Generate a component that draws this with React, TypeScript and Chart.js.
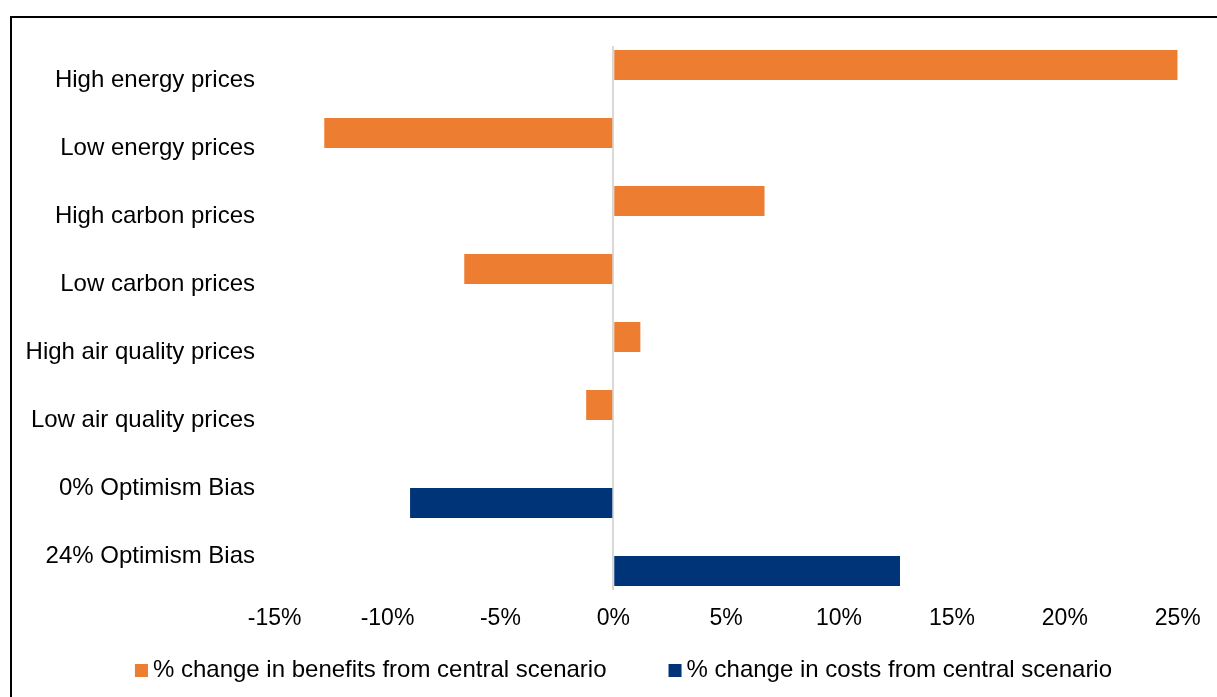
import { useEffect, useRef } from "react";
import { Chart, registerables } from "chart.js";

Chart.register(...registerables);

// Sensitivity scenarios shown on the category axis (top to bottom)
const categories = [
  "High energy prices",
  "Low energy prices",
  "High carbon prices",
  "Low carbon prices",
  "High air quality prices",
  "Low air quality prices",
  "0% Optimism Bias",
  "24% Optimism Bias",
];

// Percentage change against the central scenario
const benefitsChange = [25.0, -12.8, 6.7, -6.6, 1.2, -1.2, null, null];
const costsChange = [null, null, null, null, null, null, -9.0, 12.7];

const seriesNames = [
  "% change in benefits from central scenario",
  "% change in costs from central scenario",
];
const seriesColors = ["#ED7D31", "#003478"];

// Value axis range and tick spacing (percent)
const axisMin = -15;
const axisMax = 25;
const axisStep = 5;

const FONT = "'Liberation Sans', Arial, Helvetica, sans-serif";

// Legend drawn under the axis: small square swatch, tight gap, then the label
const bottomLegend = {
  id: "bottomLegend",
  afterDraw(chart: any) {
    const ctx = chart.ctx as CanvasRenderingContext2D;
    ctx.save();
    ctx.font = `24px ${FONT}`;
    const box = 13;
    const gapText = 5;
    const gapItem = 62;
    const items = chart.data.datasets.map((ds: any) => ({
      label: ds.label as string,
      color: ds.backgroundColor as string,
      w: ctx.measureText(ds.label).width,
    }));
    const total =
      items.reduce((s: number, it: any) => s + box + gapText + it.w, 0) +
      gapItem * (items.length - 1);
    let x = 623.5 - total / 2;
    const y = chart.height - 26.5;
    ctx.textBaseline = "middle";
    ctx.textAlign = "left";
    for (const it of items) {
      ctx.fillStyle = it.color;
      ctx.fillRect(x, y - box / 2, box, box);
      x += box + gapText;
      ctx.fillStyle = "#000000";
      ctx.fillText(it.label, x, y);
      x += it.w + gapItem;
    }
    ctx.restore();
  },
};

export default function App() {
  const canvasRef = useRef<HTMLCanvasElement | null>(null);

  useEffect(() => {
    if (!canvasRef.current) return;
    const chart = new Chart(canvasRef.current, {
      type: "bar",
      data: {
        labels: categories,
        datasets: [
          {
            label: seriesNames[0],
            data: benefitsChange,
            backgroundColor: seriesColors[0],
            borderWidth: 0,
            categoryPercentage: 60 / 68,
            barPercentage: 1,
          },
          {
            label: seriesNames[1],
            data: costsChange,
            backgroundColor: seriesColors[1],
            borderWidth: 0,
            categoryPercentage: 60 / 68,
            barPercentage: 1,
          },
        ],
      },
      options: {
        indexAxis: "y",
        responsive: false,
        animation: false,
        events: [],
        layout: {
          padding: { top: 46, right: 39.3, bottom: 67, left: 0 },
        },
        plugins: {
          legend: { display: false },
          tooltip: { enabled: false },
        },
        scales: {
          x: {
            type: "linear",
            min: axisMin,
            max: axisMax,
            ticks: {
              stepSize: axisStep,
              color: "#000000",
              font: { family: FONT, size: 23 },
              padding: 15,
              callback: (v: any) => `${v}%`,
            },
            grid: {
              drawTicks: false,
              lineWidth: 2,
              color: (c: any) =>
                c.tick && c.tick.value === 0 ? "#D9D9D9" : "rgba(0,0,0,0)",
            },
            border: { display: false },
            afterFit: (s: any) => {
              s.height = 40;
            },
          },
          y: {
            type: "category",
            grid: { display: false, drawTicks: false },
            border: { display: false },
            ticks: {
              color: "#000000",
              font: { family: FONT, size: 24 },
              padding: 19.6,
            },
            afterFit: (s: any) => {
              s.width = 274.6;
            },
          },
        },
      },
      plugins: [bottomLegend],
    });
    return () => chart.destroy();
  }, []);

  return (
    <div
      style={{
        position: "fixed",
        left: 0,
        top: 0,
        width: 1217,
        height: 697,
        overflow: "hidden",
        background: "#ffffff",
      }}
    >
      <div
        style={{
          position: "absolute",
          left: 10,
          top: 16,
          width: 1300,
          height: 800,
          borderTop: "2px solid #000000",
          borderLeft: "2px solid #000000",
        }}
      />
      <canvas
        ref={canvasRef}
        width={1217}
        height={697}
        style={{ position: "absolute", left: 0, top: 0 }}
      />
    </div>
  );
}
